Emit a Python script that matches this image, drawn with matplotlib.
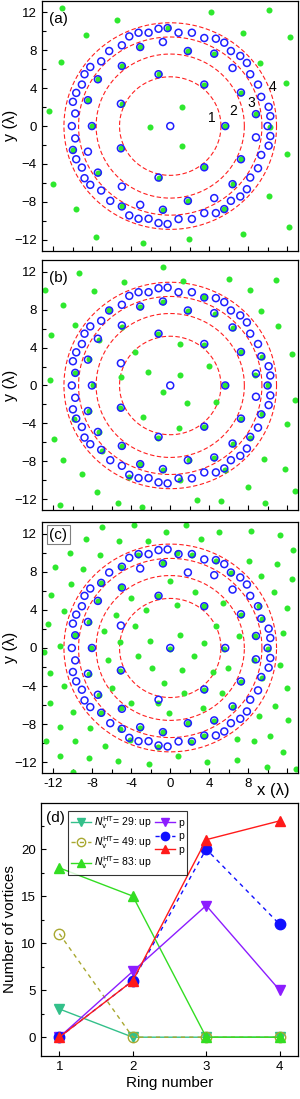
import matplotlib
matplotlib.use('Agg')
import matplotlib.pyplot as plt
import numpy as np
from matplotlib.lines import Line2D
from matplotlib.ticker import MultipleLocator

plt.rcParams['font.family'] = ['Liberation Sans', 'DejaVu Sans']

# vortex positions (blue open circles), same in (a), (b), (c)
vortices = np.array([
    (0, 0),
    (-1.2, 5.47), (3.49, 4.38), (-5.06, 2.35), (5.64, 0), (-5.06, -2.35), (3.49, -4.35), (-1.2, -5.43),
    (-3.08, 8.34), (-0.75, 8.87), (1.81, 7.92), (4.51, 7.64), (6.39, 6.13), (7.25, 3.54), (8.79, 1.26),
    (8.79, -1.19), (7.25, -3.5), (6.39, -6.13), (4.51, -7.6), (1.81, -7.89), (-0.75, -8.83), (-3.08, -8.31),
    (-4.96, -8.48), (-4.96, -6.38), (-7.42, -4.91), (-8.44, -2.7), (-8.03, 0), (-8.44, 2.73), (-7.42, 4.94),
    (-4.96, 6.34),
    (-1.2, 10.27), (-0.27, 10.34), (-2.22, 9.85), (-3.25, 9.85), (-4.2, 9.46), (0.85, 9.85), (2.22, 9.85),
    (3.49, 9.29), (4.68, 9.22), (5.54, 8.8), (6.22, 7.92), (7.18, 7.4), (7.86, 6.66), (8.2, 5.47), (9.0, 4.38),
    (9.33, 3.08), (10.09, 2.03), (10.26, 1.05), (9.98, 0), (10.26, -1.05), (10.09, -2.07), (9.33, -3.05),
    (9.0, -4.45), (8.2, -5.43), (7.86, -6.66), (7.18, -7.43), (6.22, -7.89), (5.54, -8.76), (4.68, -9.18),
    (3.49, -9.18), (2.22, -9.81), (0.85, -9.81), (-0.27, -10.34), (-1.2, -10.23), (-2.22, -9.78),
    (-3.25, -9.78), (-4.2, -9.43), (-6.15, -7.89), (-7.08, -6.8), (-8.2, -6.2), (-8.79, -5.5), (-9.06, -4.38),
    (-9.64, -3.5), (-9.98, -2.52), (-9.74, -1.3), (-10.09, 0), (-9.74, 1.33), (-9.98, 2.56), (-9.64, 3.5),
    (-9.06, 4.38), (-8.79, 5.47), (-8.2, 6.24), (-7.08, 6.83), (-6.26, 7.92), (-4.96, 8.52),
])

# green dots, panel (a)
green_a = np.array([
    (-11.1, 12.5), (4.2, 12.0), (10.1, 12.3), (-5.5, 11.2), (12.3, 9.4), (-8.6, 9.6), (7.5, 9.8),
    (-11.2, 6.8), (9.2, 6.7), (11.9, 4.5), (-12.4, 1.6), (1.2, 2.0), (-2.1, -0.1), (1.2, -2.1),
    (12.0, -2.9), (-12.0, -6.1), (10.1, -7.4), (-9.7, -8.8), (12.2, -10.6), (-7.6, -11.7),
    (-2.8, -12.3), (1.9, -11.9), (7.5, -11.4),
    (-0.27, 10.34), (-3.08, 8.34), (1.81, 7.92), (4.51, 7.64), (-4.96, 6.34), (-1.2, 5.47), (3.49, 4.38),
    (-7.42, 4.94), (7.25, 3.54), (-8.44, 2.73), (8.79, 1.26), (-8.03, 0), (5.64, 0), (-4.96, 2.35),
    (10.19, -0.07), (-9.98, -2.52), (-5.06, -2.35), (7.25, -3.5), (3.49, -4.35), (-7.42, -4.91),
    (-1.2, -5.43), (6.39, -6.13), (1.81, -7.89), (-4.96, -8.48), (-0.75, -8.83), (5.54, -8.76),
])

# green dots, panel (b)
green_b = np.array([
    (-0.75, 12.53), (-9.32, 11.93), (-12.8, 10.11), (-4.71, 10.91), (-7.85, 10.0), (1.3, 11.05),
    (6.04, 11.26), (10.86, 11.16), (8.19, 10.11), (-10.99, 8.5), (3.48, 9.34), (-0.75, 8.85),
    (-3.14, 8.32), (-6.25, 7.94), (1.84, 7.87), (4.54, 7.58), (9.29, 7.83), (-9.73, 6.39),
    (-4.95, 6.22), (6.42, 6.12), (11.1, 6.32), (-12.22, 5.31), (-7.34, 4.85), (-1.26, 5.41),
    (1.02, 4.43), (3.48, 4.29), (-3.58, 3.56), (7.24, 3.49), (9.39, 3.03), (12.53, 3.28),
    (-8.36, 2.75), (3.93, 2.01), (-2.32, 1.45), (-9.73, 1.28), (-5.05, 0.86), (0.96, 1.14),
    (8.71, 1.14), (-12.29, 0.54), (-7.95, 0), (5.63, 0), (10.07, 0), (-0.79, -0.72), (4.68, -1.77),
    (1.74, -1.87), (12.8, -1.52), (-5.12, -2.37), (-8.33, -2.72), (9.39, -3.0), (-2.8, -3.28),
    (-9.83, -3.59), (7.24, -3.52), (0.85, -4.47), (3.48, -4.4), (12.02, -4.05), (-1.26, -5.52),
    (-7.34, -4.92), (-11.95, -5.69), (8.19, -5.52), (6.42, -6.22), (-4.95, -6.39), (-7.03, -6.92),
    (9.63, -7.8), (-10.99, -7.9), (1.95, -7.9), (4.44, -7.62), (-3.07, -8.25), (-0.75, -8.88),
    (5.63, -8.95), (11.78, -8.81), (-9.01, -9.3), (-4.27, -9.65), (0.96, -9.93), (8.02, -10.7),
    (12.8, -11.12), (-7.51, -11.23), (2.73, -12.11), (5.22, -12.21), (9.73, -12.46), (-5.39, -12.39),
    (-11.34, -12.66), (-2.9, -12.8),
])

# green dots, panel (c)
green_c = np.array([
    (-7.0, 12.7), (-3.76, 12.94), (1.64, 12.94), (-8.6, 11.4), (-5.29, 11.19), (-2.32, 11.26),
    (-0.44, 12.18), (4.95, 12.18), (8.26, 12.25), (11.27, 11.9), (-10.24, 10.0), (-7.17, 9.79),
    (-3.31, 9.79), (0.68, 9.97), (2.22, 9.79), (3.14, 11.4), (4.71, 9.16), (6.21, 7.86), (12.63, 10.25),
    (-11.78, 8.46), (-8.95, 8.32), (-5.05, 8.46), (-0.75, 8.92), (8.05, 9.16), (10.92, 8.85),
    (-10.17, 6.75), (-7.1, 6.82), (-5.05, 6.36), (0.0, 7.0), (9.29, 7.52), (12.46, 7.27),
    (-12.22, 5.52), (2.49, 5.86), (-1.26, 5.48), (-4.03, 5.24), (-7.44, 4.89), (5.39, 4.71),
    (10.65, 5.86), (0.68, 4.47), (3.48, 4.36), (-10.93, 3.91), (-2.46, 4.01), (7.24, 3.49),
    (9.05, 4.36), (12.0, 4.19), (-5.53, 3.49), (-8.36, 2.72), (-12.5, 2.5), (-6.83, 1.79),
    (-3.65, 2.26), (0.96, 1.31), (4.71, 2.26), (7.0, 1.21), (9.39, 3.07), (11.6, 1.56), (-2.05, 0.75),
    (-9.73, 1.38), (-5.12, 0.61), (3.48, 0.51), (-12.9, -0.47), (-11.27, 0.23), (-8.13, 0),
    (-0.07, -0.12), (5.53, -0.09), (8.71, 1.21), (10.07, -0.09), (-3.35, -0.79), (2.39, -0.79),
    (-6.42, -1.24), (8.54, -1.24), (11.27, -1.77), (-1.88, -2.05), (1.19, -2.29), (5.97, -2.05),
    (4.37, -2.54), (-12.36, -2.65), (-8.36, -2.72), (-5.12, -2.4), (9.39, -3.1), (7.24, -3.52),
    (-0.61, -3.7), (-10.86, -3.94), (-5.97, -4.15), (1.37, -4.75), (3.48, -4.4), (5.29, -4.75),
    (12.0, -4.22), (-7.34, -4.92), (-1.26, -5.79), (-12.29, -5.73), (-4.03, -5.8), (10.72, -6.04),
    (-10.0, -6.74), (-7.07, -6.85), (-5.05, -6.32), (-0.17, -6.85), (3.35, -6.29), (6.42, -6.15),
    (9.05, -7.1), (-11.27, -8.25), (-8.26, -8.43), (-5.12, -8.5), (-3.14, -8.36), (1.81, -7.9),
    (4.44, -7.62), (-0.75, -8.77), (12.07, -7.55), (10.24, -9.2), (-12.77, -9.76), (-9.77, -9.76),
    (-6.66, -10.25), (-4.1, -9.65), (-1.26, -10.35), (2.12, -9.83), (3.48, -9.2), (6.83, -9.55),
    (8.54, -9.76), (-11.34, -11.37), (-8.36, -11.58), (-5.36, -11.82), (-2.15, -12.17), (0.75, -11.3),
    (3.76, -12.0), (6.83, -11.76), (11.6, -10.95), (9.97, -12.45), (12.9, -12.7), (-9.97, -12.98),
])

ring_radii = [5.2, 7.6, 9.4, 10.9]
ring_labels = ['1', '2', '3', '4']
ring_label_pos = [(4.3, 0.9), (6.5, 1.6), (8.3, 2.4), (10.5, 4.1)]

# panel (d): vortices per ring
rings = [1, 2, 3, 4]
up_29 = [3, 0, 0, 0]
p_29 = [0, 7, 14, 5]
up_49 = [11, 0, 0, 0]
p_49 = [0, 6, 20, 12]
up_83 = [18, 15, 0, 0]
p_83 = [0, 6, 21, 23]

blue = '#1f1fff'
green = '#2ee82e'
red = '#ff2020'

fig = plt.figure(figsize=(3.0, 10.99), dpi=100)
W, H = 300, 1099


def add_ax(top_px, bottom_px, left_px=41.5, right_px=298):
    return fig.add_axes([left_px / W, 1 - bottom_px / H,
                         (right_px - left_px) / W, (bottom_px - top_px) / H])


def map_panel(ax, greens, label, boxed=False, xlabels=False):
    th = np.linspace(0, 2 * np.pi, 400)
    for r in ring_radii:
        ax.plot(r * np.cos(th), r * np.sin(th), color=red, lw=0.8,
                ls=(0, (4, 2.2)), zorder=1)
    ax.scatter(greens[:, 0], greens[:, 1], s=19, color=green, lw=0, zorder=2)
    ax.scatter(vortices[:, 0], vortices[:, 1], s=25, facecolors='none',
               edgecolors=blue, linewidths=1.1, zorder=3)
    ax.set_xlim(-13.2, 13.1)
    ax.set_ylim(-13.15, 13.25)
    ax.xaxis.set_major_locator(MultipleLocator(4))
    ax.xaxis.set_minor_locator(MultipleLocator(2))
    ax.yaxis.set_major_locator(MultipleLocator(4))
    ax.yaxis.set_minor_locator(MultipleLocator(2))
    ax.tick_params(which='both', direction='in', top=False, right=False,
                   labelsize=9.5)
    ax.tick_params(which='major', length=3.5, width=0.8)
    ax.tick_params(which='minor', length=3.0, width=0.8)
    ax.set_ylabel('y (λ)', fontsize=11.5)
    ax.yaxis.set_label_coords(-0.092, 0.5)
    if xlabels:
        ax.set_xticks([-12, -8, -4, 0, 4, 8, 12])
        ax.set_xticklabels(['-12', '-8', '-4', '0', '4', '8', ''])
        ax.text(8.9, -15.0, 'x (λ)', fontsize=12, ha='left', va='center')
    else:
        ax.set_xticklabels([])
    if boxed:
        ax.text(-12.4, 11.9, label, fontsize=11, ha='left', va='center',
                bbox=dict(boxstyle='square,pad=0.15', fc='white', ec='0.5', lw=0.8))
    else:
        ax.text(-12.4, 11.3, label, fontsize=11, ha='left', va='center')
    for s in ax.spines.values():
        s.set_linewidth(0.9)


ax_a = add_ax(0.5, 250.7)
map_panel(ax_a, green_a, '(a)')
for (lx, ly), t in zip(ring_label_pos, ring_labels):
    ax_a.text(lx, ly, t, fontsize=10, ha='center', va='center')

ax_b = add_ax(260, 510)
map_panel(ax_b, green_b, '(b)')

ax_c = add_ax(521.7, 773.3)
map_panel(ax_c, green_c, '(c)', boxed=True, xlabels=True)

ax_d = add_ax(803, 1056, left_px=41, right_px=298)
ax_d.plot(rings, up_29, color='#33c08a', lw=1, marker='v', ms=7.5, zorder=3)
ax_d.plot(rings, up_49, color='#a8a830', lw=1, ls=(0, (3, 3)), marker='o', ms=7.5,
          mfc='none', mew=1, zorder=3)
ax_d.plot(rings, up_83, color='#33dd22', lw=1, marker='^', ms=7.5, zorder=3)
ax_d.plot(rings, p_29, color='#8c1cff', lw=1, marker='v', ms=7.5, zorder=4)
ax_d.plot(rings, p_49, color='#1010ff', lw=1, ls=(0, (3, 3)), marker='o', ms=7.5, zorder=4)
ax_d.plot(rings, p_83, color='#ff1a1a', lw=1, marker='^', ms=7.5, zorder=5)

handles = [
    Line2D([], [], color='#33c08a', lw=1, marker='v', ms=6),
    Line2D([], [], color='#a8a830', lw=1, ls=(0, (3, 3)), marker='o', ms=6, mfc='none'),
    Line2D([], [], color='#33dd22', lw=1, marker='^', ms=6),
    Line2D([], [], color='#8c1cff', lw=1, marker='v', ms=6),
    Line2D([], [], color='#1010ff', lw=1, ls=(0, (3, 3)), marker='o', ms=6),
    Line2D([], [], color='#ff1a1a', lw=1, marker='^', ms=6),
]
labels = [r'$N_\mathrm{v}^\mathrm{HT}$= 29: up', r'$N_\mathrm{v}^\mathrm{HT}$= 49: up',
          r'$N_\mathrm{v}^\mathrm{HT}$= 83: up', 'p', 'p', 'p']
leg = ax_d.legend(handles, labels, ncol=2, loc='upper left', bbox_to_anchor=(0.105, 0.97),
                  fontsize=7.5, handlelength=1.9, handletextpad=0.3, columnspacing=0.3,
                  borderpad=0.3, labelspacing=0.35, frameon=True, fancybox=False,
                  borderaxespad=0)
leg.get_frame().set_edgecolor('black')
leg.get_frame().set_linewidth(0.8)

ax_d.set_xlim(0.75, 4.25)
ax_d.set_ylim(-2, 24.9)
ax_d.set_xticks(rings)
ax_d.yaxis.set_major_locator(MultipleLocator(5))
ax_d.yaxis.set_minor_locator(MultipleLocator(2.5))
ax_d.tick_params(which='both', direction='in', top=False, right=False, labelsize=9.5)
ax_d.tick_params(which='major', length=3.5, width=0.8)
ax_d.tick_params(which='minor', length=2.5, width=0.8)
ax_d.set_xlabel('Ring number', fontsize=11, labelpad=2)
ax_d.set_ylabel('Number of vortices', fontsize=11, labelpad=3)
ax_d.text(0.02, 0.94, '(d)', transform=ax_d.transAxes, fontsize=11, ha='left', va='center')
for s in ax_d.spines.values():
    s.set_linewidth(0.9)

fig.savefig('out.png', dpi=100)
